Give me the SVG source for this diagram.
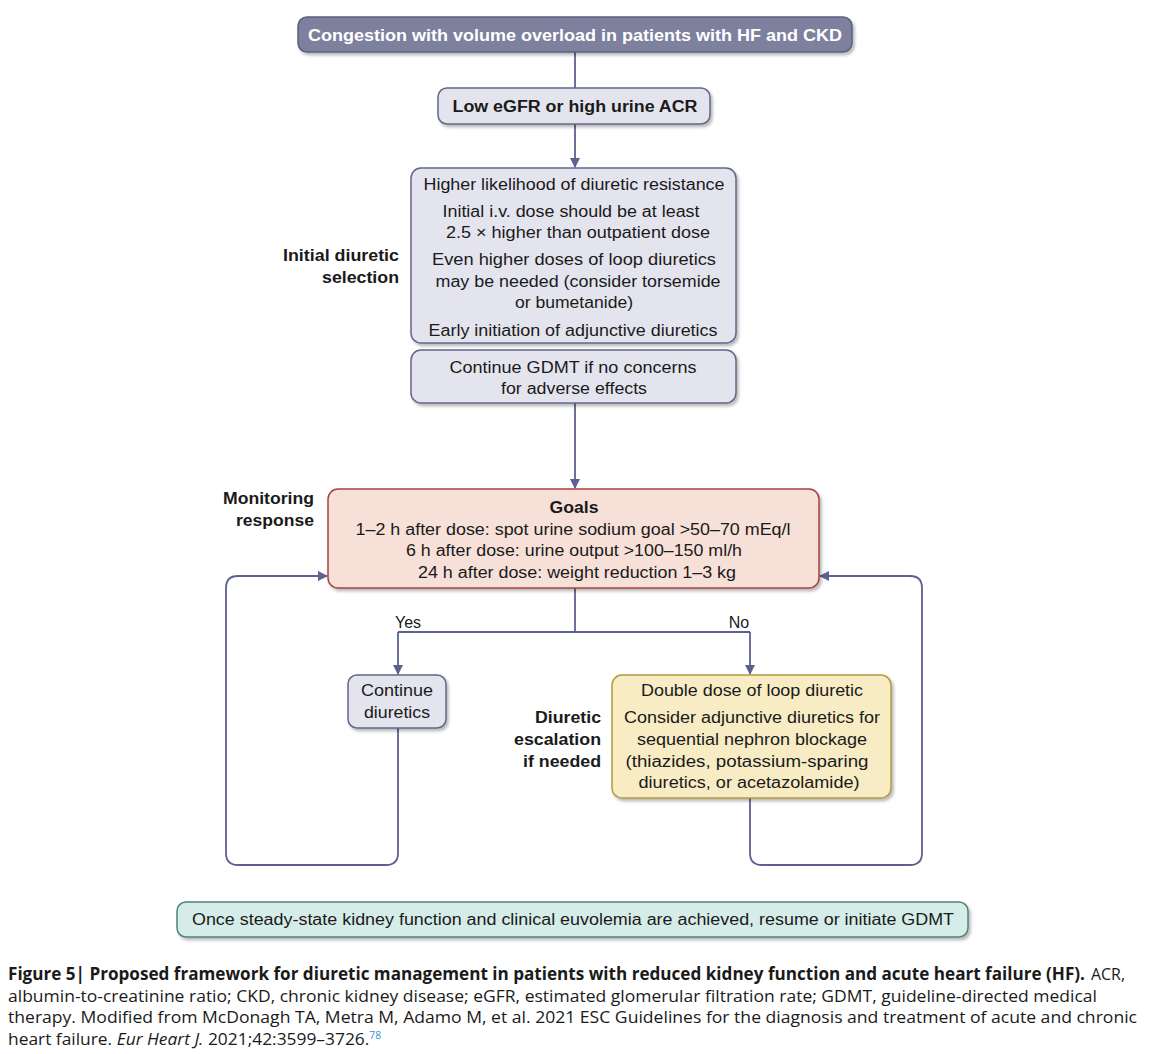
<svg xmlns="http://www.w3.org/2000/svg" width="1150" height="1054" viewBox="0 0 1150 1054">
<defs>
<filter id="sh" x="-10%" y="-10%" width="120%" height="130%">
<feDropShadow dx="2" dy="2.5" stdDeviation="1.5" flood-color="#000" flood-opacity="0.28"/>
</filter>
<marker id="ah" viewBox="0 0 10 10" refX="9" refY="5" markerWidth="10" markerHeight="10" markerUnits="userSpaceOnUse" orient="auto">
<path d="M0,0 L10,5 L0,10 Z" fill="#5d6090"/>
</marker>
<style>
.t{font-family:"Liberation Sans",Arial,sans-serif;font-size:16px;fill:#1a1a1a;text-anchor:middle}
.b{font-weight:bold}
.lb{font-weight:bold;font-size:17px;text-anchor:end}
.box{filter:url(#sh);stroke-width:1.5}
.gray{fill:#e4e4ee;stroke:#62668a}
.conn{fill:none;stroke:#5d6090;stroke-width:1.8}
.cap{font-family:"Open Sans","Noto Sans",sans-serif;font-size:17px;fill:#1a1a1a}
</style>
</defs>
<rect width="1150" height="1054" fill="#ffffff"/>

<g id="connectors">
<path class="conn" d="M575,52 V88"/>
<path class="conn" d="M575,124 V167" marker-end="url(#ah)"/>
<path class="conn" d="M575,403 V488" marker-end="url(#ah)"/>
<path class="conn" d="M575,588 V632"/>
<path class="conn" d="M398,632 H750"/>
<path class="conn" d="M398,632 V674" marker-end="url(#ah)"/>
<path class="conn" d="M750,632 V674" marker-end="url(#ah)"/>
<path class="conn" d="M398,728 V853 Q398,865 386,865 H238 Q226,865 226,853 V588 Q226,576 238,576 H327" marker-end="url(#ah)"/>
<path class="conn" d="M750,798 V853 Q750,865 762,865 H910 Q922,865 922,853 V588 Q922,576 910,576 H820" marker-end="url(#ah)"/>
</g>

<g id="n-congestion">
<rect class="box" x="298" y="17" width="554" height="35" rx="9" fill="#7d819e" stroke="#5b5f7e"/>
<text class="t b" x="575" y="41" font-size="17" style="fill:#ffffff" textLength="534" lengthAdjust="spacingAndGlyphs">Congestion with volume overload in patients with HF and CKD</text>
</g>

<g id="n-lowegfr">
<rect class="box gray" x="438" y="88" width="272" height="36" rx="9"/>
<text class="t b" x="575" y="112" font-size="17" textLength="245" lengthAdjust="spacingAndGlyphs">Low eGFR or high urine ACR</text>
</g>

<g id="n-initial">
<rect class="box gray" x="411" y="168" width="325" height="175" rx="10"/>
<text class="t" x="574" y="190" textLength="301" lengthAdjust="spacingAndGlyphs">Higher likelihood of diuretic resistance</text>
<text class="t" x="571" y="217" textLength="257" lengthAdjust="spacingAndGlyphs">Initial i.v. dose should be at least</text>
<text class="t" x="578" y="238" textLength="264" lengthAdjust="spacingAndGlyphs">2.5 × higher than outpatient dose</text>
<text class="t" x="574" y="265" textLength="284" lengthAdjust="spacingAndGlyphs">Even higher doses of loop diuretics</text>
<text class="t" x="578" y="287" textLength="285" lengthAdjust="spacingAndGlyphs">may be needed (consider torsemide</text>
<text class="t" x="574" y="308" textLength="118" lengthAdjust="spacingAndGlyphs">or bumetanide)</text>
<text class="t" x="573" y="336" textLength="289" lengthAdjust="spacingAndGlyphs">Early initiation of adjunctive diuretics</text>
</g>

<g id="n-gdmt">
<rect class="box gray" x="411" y="350" width="325" height="53" rx="10"/>
<text class="t" x="573" y="373" textLength="247" lengthAdjust="spacingAndGlyphs">Continue GDMT if no concerns</text>
<text class="t" x="574" y="394" textLength="146" lengthAdjust="spacingAndGlyphs">for adverse effects</text>
</g>

<g id="label-initial">
<text class="t lb" x="399" y="261" textLength="116" lengthAdjust="spacingAndGlyphs">Initial diuretic</text>
<text class="t lb" x="399" y="283" textLength="77" lengthAdjust="spacingAndGlyphs">selection</text>
</g>

<g id="n-goals">
<rect class="box" x="328" y="489" width="491" height="99" rx="10" fill="#f6e0d8" stroke="#a8413f"/>
<text class="t b" x="574" y="513" font-size="17" textLength="49" lengthAdjust="spacingAndGlyphs">Goals</text>
<text class="t" x="573" y="535" textLength="435" lengthAdjust="spacingAndGlyphs">1–2 h after dose: spot urine sodium goal &gt;50–70 mEq/l</text>
<text class="t" x="574" y="556" textLength="336" lengthAdjust="spacingAndGlyphs">6 h after dose: urine output &gt;100–150 ml/h</text>
<text class="t" x="577" y="578" textLength="318" lengthAdjust="spacingAndGlyphs">24 h after dose: weight reduction 1–3 kg</text>
</g>

<g id="label-monitoring">
<text class="t lb" x="314" y="504" textLength="91" lengthAdjust="spacingAndGlyphs">Monitoring</text>
<text class="t lb" x="314" y="526" textLength="78" lengthAdjust="spacingAndGlyphs">response</text>
</g>

<g id="label-yesno">
<text class="t" x="408" y="628">Yes</text>
<text class="t" x="739" y="628">No</text>
</g>

<g id="n-continue">
<rect class="box gray" x="348" y="675" width="98" height="53" rx="9"/>
<text class="t" x="397" y="696" textLength="72" lengthAdjust="spacingAndGlyphs">Continue</text>
<text class="t" x="397" y="718" textLength="66" lengthAdjust="spacingAndGlyphs">diuretics</text>
</g>

<g id="n-escalation">
<rect class="box" x="612" y="675" width="279" height="123" rx="10" fill="#f7ecc4" stroke="#b39a3c"/>
<text class="t" x="752" y="696" textLength="222" lengthAdjust="spacingAndGlyphs">Double dose of loop diuretic</text>
<text class="t" x="752" y="723" textLength="256" lengthAdjust="spacingAndGlyphs">Consider adjunctive diuretics for</text>
<text class="t" x="752" y="745" textLength="230" lengthAdjust="spacingAndGlyphs">sequential nephron blockage</text>
<text class="t" x="747" y="767" textLength="243" lengthAdjust="spacingAndGlyphs">(thiazides, potassium-sparing</text>
<text class="t" x="749" y="788" textLength="221" lengthAdjust="spacingAndGlyphs">diuretics, or acetazolamide)</text>
</g>

<g id="label-escalation">
<text class="t lb" x="601" y="723" textLength="66" lengthAdjust="spacingAndGlyphs">Diuretic</text>
<text class="t lb" x="601" y="745" textLength="87" lengthAdjust="spacingAndGlyphs">escalation</text>
<text class="t lb" x="601" y="767" textLength="78" lengthAdjust="spacingAndGlyphs">if needed</text>
</g>

<g id="n-steady">
<rect class="box" x="177" y="902" width="791" height="35" rx="9" fill="#d5ece8" stroke="#4f8479"/>
<text class="t" x="573" y="925" font-size="17" textLength="762" lengthAdjust="spacingAndGlyphs">Once steady-state kidney function and clinical euvolemia are achieved, resume or initiate GDMT</text>
</g>

<g id="caption">
<text class="cap" x="8" y="980" font-weight="bold" textLength="1077" lengthAdjust="spacingAndGlyphs">Figure 5| Proposed framework for diuretic management in patients with reduced kidney function and acute heart failure (HF).</text>
<text class="cap" x="1091" y="980" textLength="34" lengthAdjust="spacingAndGlyphs">ACR,</text>
<text class="cap" x="8" y="1002" textLength="1089" lengthAdjust="spacingAndGlyphs">albumin-to-creatinine ratio; CKD, chronic kidney disease; eGFR, estimated glomerular filtration rate; GDMT, guideline-directed medical</text>
<text class="cap" x="8" y="1023" textLength="1129" lengthAdjust="spacingAndGlyphs">therapy. Modified from McDonagh TA, Metra M, Adamo M, et al. 2021 ESC Guidelines for the diagnosis and treatment of acute and chronic</text>
<text class="cap" x="8" y="1045" textLength="373" lengthAdjust="spacingAndGlyphs">heart failure. <tspan font-style="italic">Eur Heart J.</tspan> 2021;42:3599–3726.<tspan font-size="10" dy="-6" style="fill:#2f95cf">78</tspan></text>
</g>
</svg>
